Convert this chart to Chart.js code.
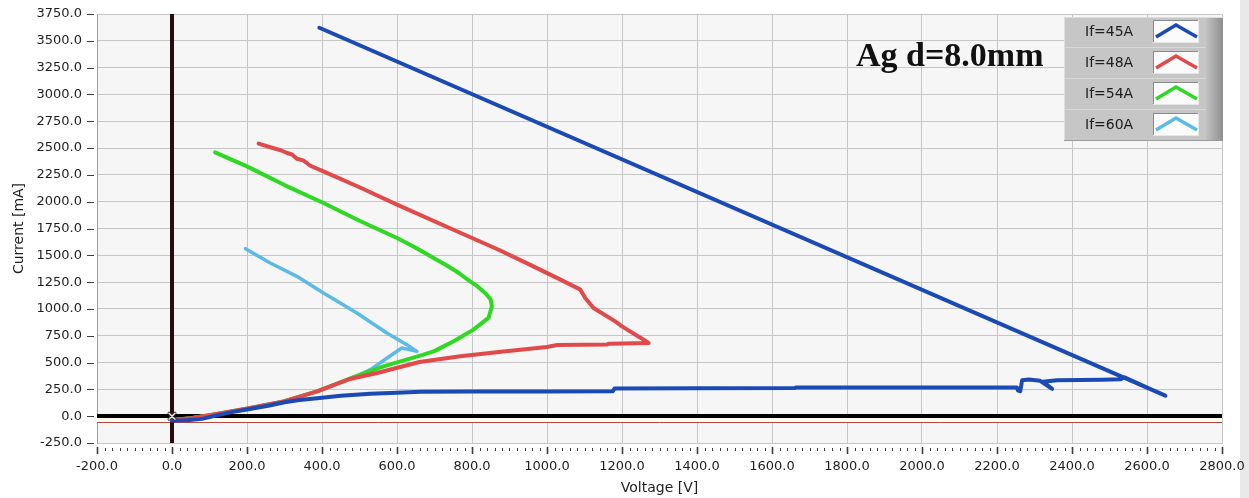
<!DOCTYPE html>
<html>
<head>
<meta charset="utf-8">
<script src="https://cdn.jsdelivr.net/npm/chart.js@4/dist/chart.umd.min.js"></script>
<style>
  html, body { margin: 0; padding: 0; background: #ffffff; }
  canvas { display: block; }
</style>
</head>
<body>
<canvas id="ivChart" width="1249" height="498"></canvas>
<script>
// ---- series ----
const seriesLabels = ['If=45A', 'If=48A', 'If=54A', 'If=60A'];
const seriesColors = ['#1b4ab5', '#e04a4a', '#2fd823', '#5cbbe4'];
const plotTitle = 'Ag d=8.0mm';

// If = 45 A : voltage [V] / current [mA]
const v45 = [0, 40, 80, 120, 160, 200, 260, 300, 340, 387, 450, 529, 600, 662, 800, 1000, 1175, 1180, 1400, 1660, 1665, 2000, 2253, 2256, 2262, 2267, 2285, 2315, 2347, 2322, 2360, 2420, 2480, 2530, 2540, 2649, 393];
const i45 = [-40, -38, -25, 8, 38, 62, 100, 130, 150, 168, 190, 210, 218, 228, 230, 231, 232, 258, 260, 262, 268, 268, 268, 240, 232, 335, 342, 330, 254, 322, 335, 338, 340, 345, 362, 191, 3622];

// If = 48 A
const v48 = [0, 50, 100, 150, 209, 298, 387, 475, 547, 660, 769, 884, 1000, 1027, 1160, 1165, 1271, 1249, 1200, 1182, 1124, 1102, 1089, 1036, 950, 871, 740, 600, 500, 413, 369, 350, 333, 320, 307, 290, 260, 231];
const i48 = [-35, -20, 10, 40, 76, 138, 231, 347, 403, 505, 558, 604, 645, 664, 668, 676, 682, 732, 837, 884, 1009, 1102, 1180, 1273, 1420, 1552, 1755, 1972, 2135, 2268, 2335, 2385, 2400, 2440, 2454, 2480, 2510, 2541];

// If = 54 A
const v54 = [0, 50, 100, 150, 209, 298, 387, 502, 564, 662, 698, 751, 804, 844, 853, 850, 838, 815, 795, 765, 733, 700, 670, 640, 600, 500, 404, 300, 200, 115];
const i54 = [-35, -20, 10, 40, 76, 138, 231, 387, 464, 565, 604, 698, 807, 916, 1024, 1085, 1140, 1210, 1257, 1335, 1405, 1470, 1530, 1590, 1661, 1822, 1988, 2155, 2329, 2460];

// If = 60 A
const v60 = [0, 50, 100, 150, 209, 298, 387, 502, 529, 591, 613, 653, 626, 573, 493, 404, 333, 262, 196];
const i60 = [-35, -20, 10, 40, 76, 138, 231, 387, 434, 585, 636, 604, 667, 776, 962, 1149, 1304, 1428, 1562];

// ---- axes ----
const voltageMin = -200, voltageMax = 2800, voltageStep = 200, voltageMinorStep = 20;
const currentMin = -250, currentMax = 3750, currentStep = 250;
const cursorVoltage = 0;        // vertical cursor
const cursorCurrent = 0;        // horizontal cursor
const lowerCursorCurrent = -55; // thin reference line

const seriesVoltages = [v45, v48, v54, v60];
const seriesCurrents = [i45, i48, i54, i60];

const datasets = seriesLabels.map((label, k) => ({
  label,
  data: seriesVoltages[k].map((v, j) => ({ x: v, y: seriesCurrents[k][j] })),
  borderColor: seriesColors[k],
  backgroundColor: seriesColors[k],
  borderWidth: k === 3 ? 3.5 : 4,
  showLine: true,
  pointRadius: 0,
  tension: 0,
  borderJoinStyle: 'round',
  borderCapStyle: 'round'
}));

const uiFont = 'DejaVu Sans';

// plot background and right strip
const backdrop = {
  id: 'backdrop',
  beforeDraw(chart) {
    const { ctx, chartArea: a, width, height } = chart;
    ctx.save();
    ctx.fillStyle = '#ffffff';
    ctx.fillRect(0, 0, width, height);
    ctx.fillStyle = '#e9e9e9';
    ctx.fillRect(a.right + 18, 0, width - a.right - 18, height);
    ctx.fillStyle = '#f6f6f6';
    ctx.fillRect(a.left, a.top, a.right - a.left, a.bottom - a.top);
    ctx.restore();
  }
};

// cursor lines through the origin
const cursors = {
  id: 'cursors',
  beforeDatasetsDraw(chart) {
    const { ctx, chartArea: a, scales: { x, y } } = chart;
    const x0 = Math.round(x.getPixelForValue(cursorVoltage));
    const y0 = Math.round(y.getPixelForValue(cursorCurrent));
    const yl = Math.round(y.getPixelForValue(lowerCursorCurrent));
    ctx.save();
    ctx.fillStyle = '#fffbef';
    ctx.fillRect(a.left, y0 + 2, a.right - a.left, yl - y0 - 2);
    ctx.strokeStyle = '#b5483c';
    ctx.lineWidth = 1;
    ctx.beginPath();
    ctx.moveTo(a.left, yl + 0.5); ctx.lineTo(a.right, yl + 0.5);
    ctx.stroke();
    ctx.strokeStyle = '#000000';
    ctx.lineWidth = 4;
    ctx.beginPath();
    ctx.moveTo(a.left, y0); ctx.lineTo(a.right, y0);
    ctx.stroke();
    ctx.strokeStyle = '#2a0c0c';
    ctx.lineWidth = 4;
    ctx.beginPath();
    ctx.moveTo(x0, a.top); ctx.lineTo(x0, a.bottom);
    ctx.stroke();
    ctx.restore();
  },
  afterDatasetsDraw(chart) {
    const { ctx, scales: { x, y } } = chart;
    const x0 = x.getPixelForValue(cursorVoltage);
    const y0 = y.getPixelForValue(cursorCurrent);
    ctx.save();
    ctx.lineCap = 'round';
    [['#3a2a2a', 3], ['#e8e8e8', 1.4]].forEach(([c, w]) => {
      ctx.strokeStyle = c; ctx.lineWidth = w;
      ctx.beginPath();
      ctx.moveTo(x0 - 3, y0 - 3); ctx.lineTo(x0 + 3, y0 + 3);
      ctx.moveTo(x0 + 3, y0 - 3); ctx.lineTo(x0 - 3, y0 + 3);
      ctx.stroke();
    });
    ctx.restore();
  }
};

// tick marks: major + minor on voltage, major on current
const tickMarks = {
  id: 'tickMarks',
  afterDraw(chart) {
    const { ctx, chartArea: a, scales: { x, y } } = chart;
    ctx.save();
    ctx.strokeStyle = '#3c3c3c';
    for (let v = voltageMin; v <= voltageMax; v += voltageMinorStep) {
      const px = Math.round(x.getPixelForValue(v)) + 0.5;
      const major = v % voltageStep === 0;
      ctx.lineWidth = major ? 1.6 : 1;
      ctx.beginPath();
      ctx.moveTo(px, a.bottom + (major ? 4 : 5));
      ctx.lineTo(px, a.bottom + (major ? 11 : 8));
      ctx.stroke();
    }
    ctx.lineWidth = 1;
    for (let c = currentMin; c <= currentMax; c += currentStep) {
      const py = Math.round(y.getPixelForValue(c)) + 0.5;
      ctx.beginPath();
      ctx.moveTo(a.left - 10, py); ctx.lineTo(a.left - 3, py);
      ctx.stroke();
    }
    ctx.restore();
  }
};

// plot caption and legend panel
const panelDecor = {
  id: 'panelDecor',
  afterDraw(chart) {
    const { ctx } = chart;
    ctx.save();
    ctx.fillStyle = '#111111';
    ctx.font = 'bold 34px "Liberation Serif"';
    ctx.textBaseline = 'alphabetic';
    ctx.textAlign = 'left';
    ctx.fillText(plotTitle, 856, 66);

    const px = 1064, py = 17, pw = 159, ph = 124;
    ctx.fillStyle = '#c6c6c6';
    ctx.fillRect(px, py, pw, ph);
    const g = ctx.createLinearGradient(px + pw - 17, 0, px + pw, 0);
    g.addColorStop(0, '#c2c2c2');
    g.addColorStop(1, '#8e8e8e');
    ctx.fillStyle = g;
    ctx.fillRect(px + pw - 17, py, 17, ph);
    ctx.fillStyle = '#dedede';
    ctx.fillRect(px, py, pw, 1);
    ctx.fillRect(px, py, 1, ph);
    ctx.fillStyle = '#9a9a9a';
    ctx.fillRect(px, py + ph - 1, pw, 1);

    chart.data.datasets.forEach((ds, k) => {
      const ry = py + 15 + k * 31;
      if (k > 0) {
        ctx.fillStyle = '#d8d8d8';
        ctx.fillRect(px + 1, ry - 16, pw - 18, 1);
      }
      ctx.fillStyle = '#1c1c1c';
      ctx.font = '14px "' + uiFont + '"';
      ctx.textBaseline = 'middle';
      ctx.fillText(ds.label, 1085, ry);
      const bx = 1153, by = ry - 12, bw = 46, bh = 23;
      ctx.fillStyle = '#fbfbfb';
      ctx.fillRect(bx, by, bw, bh);
      ctx.fillStyle = '#8a8a8a';
      ctx.fillRect(bx, by, bw, 1);
      ctx.fillRect(bx, by, 1, bh);
      ctx.fillStyle = '#e6e6e6';
      ctx.fillRect(bx, by + bh - 1, bw, 1);
      ctx.fillRect(bx + bw - 1, by, 1, bh);
      ctx.strokeStyle = ds.borderColor;
      ctx.lineWidth = 3.5;
      ctx.lineJoin = 'miter';
      ctx.beginPath();
      ctx.moveTo(bx + 3, by + 17);
      ctx.lineTo(bx + 23, by + 5);
      ctx.lineTo(bx + 44, by + 17);
      ctx.stroke();
    });
    ctx.restore();
  }
};

new Chart(document.getElementById('ivChart'), {
  type: 'scatter',
  data: { datasets },
  options: {
    responsive: false,
    animation: false,
    devicePixelRatio: 1,
    layout: { padding: { left: 0, top: 14, right: 27, bottom: 0 } },
    plugins: {
      legend: { display: false },
      tooltip: { enabled: false },
      title: { display: false }
    },
    scales: {
      x: {
        type: 'linear',
        min: voltageMin,
        max: voltageMax,
        afterFit(scale) {
          scale.height = 55;
          scale.paddingLeft = 0;
          scale.paddingRight = 0;
        },
        ticks: {
          stepSize: voltageStep,
          autoSkip: false,
          maxRotation: 0,
          padding: 16,
          color: '#1e1e1e',
          font: { family: uiFont, size: 13 },
          callback: (v) => Number(v).toFixed(1)
        },
        grid: { color: '#c6c6c6', lineWidth: 1, drawTicks: false },
        border: { display: true, color: '#c6c6c6' },
        title: {
          display: true,
          text: 'Voltage [V]',
          color: '#1e1e1e',
          font: { family: uiFont, size: 14 },
          padding: { top: 0, bottom: 1 }
        }
      },
      y: {
        type: 'linear',
        min: currentMin,
        max: currentMax,
        afterFit(scale) {
          scale.width = 97;
          scale.paddingTop = 0;
          scale.paddingBottom = 0;
        },
        ticks: {
          stepSize: currentStep,
          autoSkip: false,
          padding: 15,
          color: '#1e1e1e',
          font: { family: uiFont, size: 13 },
          callback: (v) => Number(v).toFixed(1)
        },
        grid: { color: '#c6c6c6', lineWidth: 1, drawTicks: false },
        border: { display: true, color: '#9c9c9c' },
        title: {
          display: true,
          text: 'Current [mA]',
          color: '#1e1e1e',
          font: { family: uiFont, size: 14 },
          padding: { top: 11, bottom: 0 }
        }
      }
    }
  },
  plugins: [backdrop, cursors, tickMarks, panelDecor]
});
</script>
</body>
</html>
